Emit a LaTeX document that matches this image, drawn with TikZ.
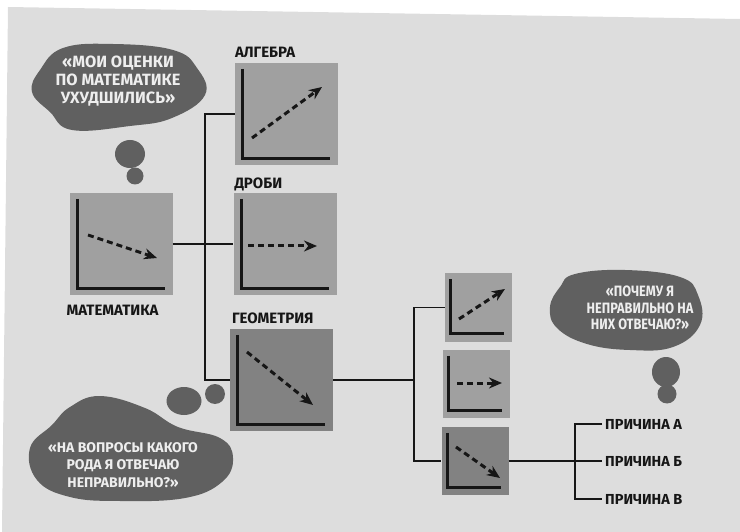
\documentclass[tikz,border=0pt]{standalone}
\usepackage{fontspec}
\setmainfont{Fira Sans}[UprightFont=* Bold, BoldFont=* Bold]
\newfontfamily\narrowsans{Fira Sans}[UprightFont=* Bold, FakeStretch=0.85]
\usetikzlibrary{arrows.meta}

\definecolor{paper}{RGB}{221,221,221}
\definecolor{chartgray}{RGB}{160,160,160}
\definecolor{chartdark}{RGB}{130,130,130}
\definecolor{cloudgray}{RGB}{96,96,96}
\definecolor{cloudtext}{RGB}{238,238,238}
\definecolor{ink}{RGB}{22,22,22}

% axes in the corner of a chart: node, left inset, bottom inset
\newcommand{\chartaxes}[3]{%
  \draw[axis] ([shift={(#2,6)}]#1.north west) |- ([shift={(-8,-#3)}]#1.south east);}

\tikzset{
  chart/.style={fill=chartgray, minimum width=103pt, minimum height=102pt, inner sep=0pt},
  small chart/.style={chart, minimum width=67pt, minimum height=68pt},
  dark/.style={fill=chartdark},
  axis/.style={draw=ink, line width=3pt},
  trend/.style={draw=ink, line width=3pt, dash pattern=on 6pt off 4pt,
    -{Stealth[length=13pt,width=11pt]}},
  link/.style={draw=ink, line width=1.8pt},
  tag/.style={text=ink, font=\fontsize{15}{17}\selectfont, inner sep=0pt, anchor=base west},
  thought/.style={text=cloudtext, font=\fontsize{16}{18}\selectfont, align=center, inner sep=0pt},
  reason/.style={text=ink, font=\fontsize{14.5}{16}\selectfont, anchor=west, inner sep=3pt},
}

\begin{document}
\begin{tikzpicture}[x=1pt, y=-1pt]
  \useasboundingbox (0,0) rectangle (740,532);
  \fill[paper] (8,7) -- (740,19) -- (740,532) -- (2,532) -- cycle;

  % thought clouds
  \fill[cloudgray] plot[smooth cycle, tension=0.7] coordinates {(63,48) (113,44) (173,50) (197,68) (205,95) (172,118) (130,126) (72,130) (50,112) (32,92) (40,70)};
  \fill[cloudgray] (130,154) ellipse [x radius=15, y radius=14];
  \fill[cloudgray] (135,176) circle [radius=8.5];
  \node[thought, font=\fontsize{16.3}{18}\selectfont] (grades) at (118,81) {«МОИ ОЦЕНКИ\\ПО МАТЕМАТИКЕ\\УХУДШИЛИСЬ»};

  \fill[cloudgray] plot[smooth cycle, tension=0.7] coordinates {(70,407) (100,396) (145,408) (178,427) (220,438) (233,458) (222,482) (185,498) (120,501) (70,497) (37,480) (30,448) (52,425)};
  \fill[cloudgray] (184,401) ellipse [x radius=17.5, y radius=14];
  \fill[cloudgray] (215,394) circle [radius=10];
  \node[thought, font=\fontsize{14}{17.5}\selectfont] (which) at (123,465) {«НА ВОПРОСЫ КАКОГО\\РОДА Я ОТВЕЧАЮ\\НЕПРАВИЛЬНО?»};

  \fill[cloudgray] plot[smooth cycle, tension=0.7] coordinates {(575,274) (625,270) (680,277) (698,295) (700,325) (673,347) (630,350) (587,344) (557,328) (550,307) (560,287)};
  \fill[cloudgray] (666,372) ellipse [x radius=14, y radius=15];
  \fill[cloudgray] (667,394) circle [radius=9.5];
  \node[thought, font=\narrowsans\fontsize{15}{16.5}\selectfont] (why) at (640,308) {«ПОЧЕМУ Я\\НЕПРАВИЛЬНО НА\\НИХ ОТВЕЧАЮ?»};

  % charts
  \node[chart] (math) at (121,244) {};
  \node[chart] (algebra) at (286.5,114) {};
  \node[chart] (fractions) at (285,244) {};
  \node[chart, dark] (geometry) at (281.5,380) {};
  \node[small chart] (geoA) at (478.5,307.5) {};
  \node[small chart] (geoB) at (476.5,384) {};
  \node[small chart, dark] (geoC) at (475,461) {};

  \chartaxes{math}{8}{7}
  \chartaxes{algebra}{8}{7}
  \chartaxes{fractions}{8}{7}
  \chartaxes{geometry}{8}{7}
  \chartaxes{geoA}{6}{8}
  \chartaxes{geoB}{6}{8}
  \chartaxes{geoC}{6}{8}

  \draw[trend] ([shift={(-33,-9)}]math.center) -- ([shift={(36,14)}]math.center);
  \draw[trend] ([shift={(-34.5,24)}]algebra.center) -- ([shift={(35.5,-27)}]algebra.center);
  \draw[trend] ([shift={(-37,2)}]fractions.center) -- ([shift={(32,2)}]fractions.center);
  \draw[trend] ([shift={(-34.5,-28)}]geometry.center) -- ([shift={(31.5,25)}]geometry.center);
  \draw[trend] ([shift={(-19.5,11.5)}]geoA.center) -- ([shift={(26.5,-18.5)}]geoA.center);
  \draw[trend] ([shift={(-19.5,-1)}]geoB.center) -- ([shift={(25.5,-1)}]geoB.center);
  \draw[trend] ([shift={(-19,-14)}]geoC.center) -- ([shift={(25,17)}]geoC.center);

  % chart titles
  \node[tag] (math-tag) at ([shift={(-3,20)}]math.south west) {МАТЕМАТИКА};
  \node[tag] (algebra-tag) at ([shift={(0,-5)}]algebra.north west) {АЛГЕБРА};
  \node[tag] (fractions-tag) at ([shift={(1,-4)}]fractions.north west) {ДРОБИ};
  \node[tag] (geometry-tag) at ([shift={(2,-5)}]geometry.north west) {ГЕОМЕТРИЯ};

  % reasons
  \node[reason] (reasonA) at (602,424) {ПРИЧИНА А};
  \node[reason] (reasonB) at (602,461) {ПРИЧИНА Б};
  \node[reason] (reasonC) at (602,499) {ПРИЧИНА В};

  % tree links
  \coordinate (trunk) at (205,244);
  \coordinate (split) at (414,380);
  \coordinate (fork) at (575,461);
  \draw[link] (math) -- (fractions);
  \draw[link] (algebra.west) -| (trunk) |- (geometry.west);
  \draw[link] (geometry) -- (split);
  \draw[link] (geoA.west) -| (split) |- (geoC.west);
  \draw[link] (geoC) -- (fork);
  \draw[link] (reasonA.west) -| (fork) |- (reasonC.west);
  \draw[link] (fork) -- (reasonB.west);
\end{tikzpicture}
\end{document}
